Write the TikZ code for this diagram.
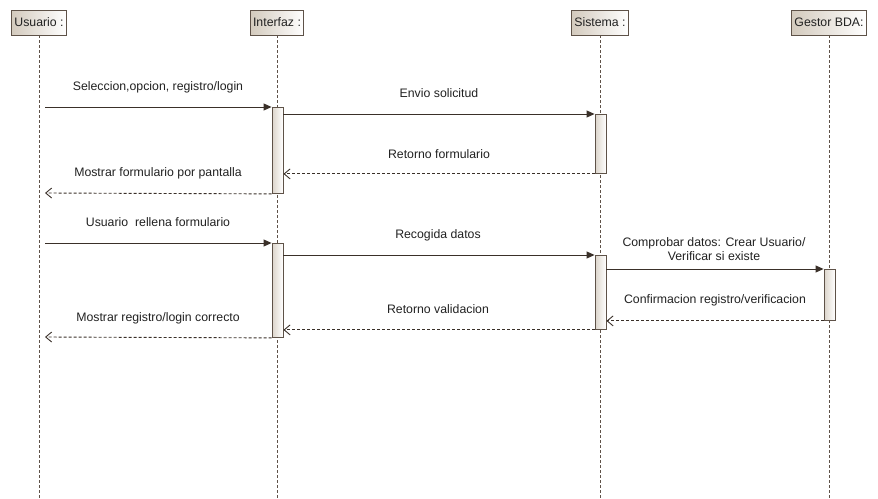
\documentclass[tikz,border=0pt]{standalone}
\usepackage{fontspec}
\setmainfont{Liberation Sans}
\usetikzlibrary{arrows.meta}
\definecolor{umlline}{HTML}{3A3029}
\definecolor{umlbox}{HTML}{5E5248}
\definecolor{umlfill}{HTML}{D3CABD}
\definecolor{umltext}{HTML}{222222}
\tikzset{
  head/.style={draw=umlbox, line width=0.9pt, left color=umlfill, right color=white, minimum height=25pt,
    inner xsep=3pt, inner ysep=0pt, text=umltext, font=\fontsize{12.3}{14}\selectfont},
  act/.style={draw=umlbox, line width=0.9pt, left color=umlfill!80, right color=white, minimum width=11pt,
    inner sep=0pt, anchor=north},
  lifeline/.style={umlbox, line width=0.9pt, dashed, dash pattern=on 3pt off 2pt},
  msg/.style={umlline, line width=0.9pt, -{Triangle[length=8pt,width=7pt]}},
  ret/.style={umlline, line width=0.9pt, dashed, dash pattern=on 3pt off 2pt, -{Straight Barb[length=6pt,width=10pt]}},
  lbl/.style={text=umltext, font=\fontsize{12.3}{14.5}\selectfont, align=center, inner sep=0pt}
}
\begin{document}
\begin{tikzpicture}[x=1pt,y=-1pt]
  \useasboundingbox[fill=white] (0,0) rectangle (878,498);
  % cabeceras
  \node[head] (usuario) at (39,22.5) {Usuario :};
  \node[head] (interfaz) at (277,22.5) {Interfaz :};
  \node[head] (sistema) at (600,22.5) {Sistema :};
  \node[head] (gestor) at (829,22.5) {Gestor BDA:};
  \coordinate (bot) at (0,498);
  % lineas de vida
  \draw[lifeline] (usuario) -- (usuario |- bot);
  \draw[lifeline] (interfaz) -- (interfaz |- bot);
  \draw[lifeline] (sistema) -- (sistema |- bot);
  \draw[lifeline] (gestor) -- (gestor |- bot);
  % activaciones
  \node[act, minimum height=86pt] (i1) at (277.5,107) {};
  \node[act, minimum height=59pt] (s1) at (600.5,114) {};
  \node[act, minimum height=94pt] (i2) at (277.5,243) {};
  \node[act, minimum height=74pt] (s2) at (600.5,255) {};
  \node[act, minimum height=51pt] (g1) at (829.5,269) {};
  \coordinate (u1) at (45,107);
  \coordinate (u2) at (45,193);
  \coordinate (u3) at (45,243);
  \coordinate (u4) at (45,337);
  % mensajes
  \draw[msg] (u1) -- (i1.north west);
  \draw[msg] (i1.east |- s1.north) -- (s1.north west);
  \draw[ret] (s1.south west) -- (i1.east |- s1.south);
  \draw[ret] (i1.south west) -- (u2);
  \draw[msg] (u3) -- (i2.north west);
  \draw[msg] (i2.east |- s2.north) -- (s2.north west);
  \draw[msg] (s2.east |- g1.north) -- (g1.north west);
  \draw[ret] (g1.south west) -- (s2.east |- g1.south);
  \draw[ret] (s2.south west) -- (i2.east |- s2.south);
  \draw[ret] (i2.south west) -- (u4);
  % etiquetas
  \node[lbl] (m1) at (158,87) {Seleccion,opcion, registro/login};
  \node[lbl] (m2) at (439,93) {Envio solicitud};
  \node[lbl] (m3) at (439,154) {Retorno formulario};
  \node[lbl] (m4) at (158,173) {Mostrar formulario por pantalla};
  \node[lbl] (m5) at (158,222) {Usuario \ rellena formulario};
  \node[lbl] (m6) at (438,235) {Recogida datos};
  \node[lbl] (m7) at (714,249) {Comprobar datos: Crear Usuario/\\Verificar si existe};
  \node[lbl] (m8) at (715,300) {Confirmacion registro/verificacion};
  \node[lbl] (m9) at (438,309) {Retorno validacion};
  \node[lbl] (m10) at (158,318) {Mostrar registro/login correcto};
\end{tikzpicture}
\end{document}
